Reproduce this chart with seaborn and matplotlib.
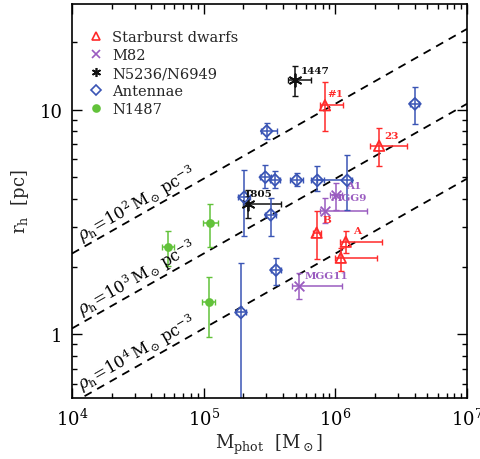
import numpy as np
import pandas as pd
import matplotlib
matplotlib.use("Agg")
import matplotlib.pyplot as plt
import matplotlib.ticker as mticker
from matplotlib.lines import Line2D
import seaborn as sns

# ---------------- data ----------------
# Starburst dwarfs
sb_mass = [8.34e5, 2.15e6, 7.21e5, 1.20e6, 1.10e6]
sb_mass_lo = [7.64e5, 1.83e6, 6.73e5, 1.08e6, 9.93e5]
sb_mass_hi = [1.14e6, 3.50e6, 7.73e5, 2.27e6, 2.06e6]
sb_r = [10.45, 6.90, 2.83, 2.58, 2.19]
sb_r_lo = [8.0, 5.63, 2.17, 2.31, 1.92]
sb_r_hi = [13.3, 8.30, 3.54, 2.88, 2.43]
sb_names = ["#1", "23", "B", "A", ""]

# M82
m82_mass = [1.02e6, 8.34e5, 5.32e5]
m82_mass_lo = [9.1e5, 7.64e5, 4.68e5]
m82_mass_hi = [1.12e6, 1.75e6, 1.12e6]
m82_r = [4.18, 3.55, 1.64]
m82_r_lo = [3.58, 3.13, 1.43]
m82_r_hi = [4.71, 4.04, 1.88]
m82_names = ["A1", "MGG9", "MGG11"]

# N5236/N6949
n52_mass = [4.93e5, 2.16e5]
n52_mass_lo = [4.37e5, 1.99e5]
n52_mass_hi = [6.49e5, 3.86e5]
n52_r = [13.5, 3.78]
n52_r_lo = [11.5, 3.30]
n52_r_hi = [15.7, 4.40]
n52_names = ["1447", "1805"]

# Antennae
ant_mass = [3.01e5, 2.94e5, 3.48e5, 5.08e5, 7.30e5, 1.23e6, 2.03e5, 3.23e5, 3.54e5, 1.92e5, 4.02e6]
ant_mass_lo = [2.72e5, 2.67e5, 3.18e5, 4.52e5, 6.53e5, 7.30e5, 1.82e5, 2.92e5, 3.24e5, 1.76e5, 3.68e6]
ant_mass_hi = [3.58e5, 3.24e5, 3.79e5, 5.68e5, 8.20e5, 1.34e6, 2.25e5, 3.54e5, 3.86e5, 2.10e5, 4.32e6]
ant_r = [8.02, 5.00, 4.86, 4.85, 4.84, 4.84, 4.07, 3.40, 1.93, 1.25, 10.6]
ant_r_lo = [7.36, 4.47, 4.47, 4.56, 4.33, 3.58, 2.74, 2.74, 1.66, 0.30, 8.61]
ant_r_hi = [8.67, 5.65, 5.32, 5.21, 5.59, 6.25, 5.38, 4.04, 2.19, 2.07, 12.6]

# N1487
n14_mass = [5.33e4, 1.12e5, 1.09e5]
n14_mass_lo = [4.80e4, 9.88e4, 9.71e4]
n14_mass_hi = [5.94e4, 1.29e5, 1.22e5]
n14_r = [2.45, 3.13, 1.39]
n14_r_lo = [2.01, 2.44, 0.97]
n14_r_hi = [2.88, 3.80, 1.80]

# constant density lines (M_sun pc^-3)
densities = [1e2, 1e3, 1e4]
density_labels = [r"$\rho_{\rm h}\!=\!10^2\,\mathrm{M_\odot}\,\mathrm{pc^{-3}}$",
                  r"$\rho_{\rm h}\!=\!10^3\,\mathrm{M_\odot}\,\mathrm{pc^{-3}}$",
                  r"$\rho_{\rm h}\!=\!10^4\,\mathrm{M_\odot}\,\mathrm{pc^{-3}}$"]

group_names = ["Starburst dwarfs", "M82", "N5236/N6949", "Antennae", "N1487"]

# ---------------- style ----------------
sns.set_theme(style="ticks")
plt.rcParams["font.family"] = ["DejaVu Serif"]
plt.rcParams["mathtext.fontset"] = "dejavuserif"

colors = {"Starburst dwarfs": "#ff2a2a", "M82": "#9a5cc0", "N5236/N6949": "#111111",
          "Antennae": "#3a55b5", "N1487": "#62c23a"}
markers = {"Starburst dwarfs": "^", "M82": "x", "N5236/N6949": (6, 2, 0),
           "Antennae": "D", "N1487": "o"}
msize = {"Starburst dwarfs": 7.5, "M82": 7, "N5236/N6949": 9, "Antennae": 6, "N1487": 5}
lsize = {"Starburst dwarfs": 6, "M82": 6, "N5236/N6949": 6.5, "Antennae": 4.8, "N1487": 5}
filled = {"Starburst dwarfs": False, "M82": True, "N5236/N6949": True,
          "Antennae": False, "N1487": True}

groups = [
    ("Starburst dwarfs", sb_mass, sb_mass_lo, sb_mass_hi, sb_r, sb_r_lo, sb_r_hi),
    ("M82", m82_mass, m82_mass_lo, m82_mass_hi, m82_r, m82_r_lo, m82_r_hi),
    ("N5236/N6949", n52_mass, n52_mass_lo, n52_mass_hi, n52_r, n52_r_lo, n52_r_hi),
    ("Antennae", ant_mass, ant_mass_lo, ant_mass_hi, ant_r, ant_r_lo, ant_r_hi),
    ("N1487", n14_mass, n14_mass_lo, n14_mass_hi, n14_r, n14_r_lo, n14_r_hi),
]

rows = []
for name, m, mlo, mhi, r, rlo, rhi in groups:
    for i in range(len(m)):
        rows.append(dict(group=name, mass=m[i], mlo=mlo[i], mhi=mhi[i],
                         r=r[i], rlo=rlo[i], rhi=rhi[i]))
df = pd.DataFrame(rows)

fig = plt.figure(figsize=(4.81, 4.60), dpi=100)
ax = fig.add_axes([72 / 481, (460 - 399) / 460, (467 - 72) / 481, (399 - 5) / 460])
ax.set_xscale("log")
ax.set_yscale("log")
xlim = (1e4, 1e7)
ylim = (0.52, 29.5)
ax.set_xlim(*xlim)
ax.set_ylim(*ylim)

# constant density lines: rho = 3M / (8 pi r^3)
mline = np.logspace(4, 7, 50)
for rho in densities:
    rline = (3 * mline / (8 * np.pi * rho)) ** (1 / 3)
    ax.plot(mline, rline, color="black", lw=1.3, ls=(0, (4.5, 3.5)), zorder=1)

# error bars + markers
for name in group_names:
    sub = df[df.group == name]
    ax.errorbar(sub.mass, sub.r,
                xerr=[sub.mass - sub.mlo, sub.mhi - sub.mass],
                yerr=[sub.r - sub.rlo, sub.rhi - sub.r],
                fmt="none", ecolor=colors[name], elinewidth=1.1, capsize=2.0,
                capthick=1.0, zorder=2)
    kw = dict(s=msize[name] ** 2, marker=markers[name], zorder=3, legend=False, ax=ax)
    if filled[name]:
        sns.scatterplot(data=sub, x="mass", y="r", color=colors[name],
                        edgecolor=colors[name], linewidth=1.3, **kw)
    else:
        sns.scatterplot(data=sub, x="mass", y="r", facecolor="none",
                        edgecolor=colors[name], linewidth=1.3, **kw)

# point labels
lab_sets = [
    (sb_mass, sb_r, sb_names, colors["Starburst dwarfs"],
     [(2, 5), (4, 4), (4, 6), (5, 5), (0, 0)]),
    (m82_mass, m82_r, m82_names, colors["M82"], [(7, 3), (4, 6), (4, 4)]),
    (n52_mass, n52_r, n52_names, colors["N5236/N6949"], [(4, 4), (-3, 5)]),
]
for ms, rs, names, col, offs in lab_sets:
    for m, r, nm, off in zip(ms, rs, names, offs):
        if nm:
            ax.annotate(nm, (m, r), xytext=off, textcoords="offset points",
                        color=col, fontsize=7.5, fontweight="bold",
                        ha="left", va="bottom", zorder=4)

# density line labels (rotated along the lines)
fig.canvas.draw()
for rho, lab in zip(densities, density_labels):
    m0, m1 = 1.25e4, 1e5
    r0 = (3 * m0 / (8 * np.pi * rho)) ** (1 / 3)
    r1 = (3 * m1 / (8 * np.pi * rho)) ** (1 / 3)
    p0, p1 = ax.transData.transform([(m0, r0), (m1, r1)])
    ang = np.degrees(np.arctan2(p1[1] - p0[1], p1[0] - p0[0]))
    ax.annotate(lab, (m0, r0), xytext=(0, 0.5), textcoords="offset points",
                rotation=ang, rotation_mode="anchor", ha="left", va="bottom",
                fontsize=11.5, color="black", zorder=4, annotation_clip=False)

# ticks
ax.tick_params(which="both", direction="in", top=True, right=True, width=1.0, colors="black")
ax.tick_params(which="major", length=7, labelsize=13, pad=7)
ax.tick_params(which="minor", length=3.5)
ax.xaxis.set_major_locator(mticker.LogLocator(base=10))
ax.xaxis.set_major_formatter(mticker.LogFormatterMathtext())
ax.yaxis.set_major_locator(mticker.FixedLocator([1, 10]))
ax.yaxis.set_major_formatter(mticker.FixedFormatter(["1", "10"]))
ax.yaxis.set_minor_locator(mticker.LogLocator(base=10, subs=np.arange(2, 10)))
ax.yaxis.set_minor_formatter(mticker.NullFormatter())
for sp in ax.spines.values():
    sp.set_linewidth(1.2)
    sp.set_color("black")

ax.set_xlabel(r"$\mathrm{M_{phot}}\ \ [\mathrm{M_\odot}]$", fontsize=13, labelpad=2)
ax.set_ylabel(r"$\mathrm{r_h}\ \ [\mathrm{pc}]$", fontsize=13, labelpad=6)

# legend
handles = []
for name in group_names:
    if filled[name]:
        h = Line2D([], [], ls="none", marker=markers[name], color=colors[name],
                   markerfacecolor=colors[name], markersize=lsize[name], markeredgewidth=1.2)
    else:
        h = Line2D([], [], ls="none", marker=markers[name], color=colors[name],
                   markerfacecolor="none", markersize=lsize[name], markeredgewidth=1.2)
    handles.append(h)
ax.legend(handles, group_names, loc="upper left", frameon=False, fontsize=10.5,
          handlelength=0.8, handletextpad=0.7, labelspacing=0.28,
          borderaxespad=0.3, bbox_to_anchor=(0.02, 0.96))

fig.savefig("out.png", dpi=100)
